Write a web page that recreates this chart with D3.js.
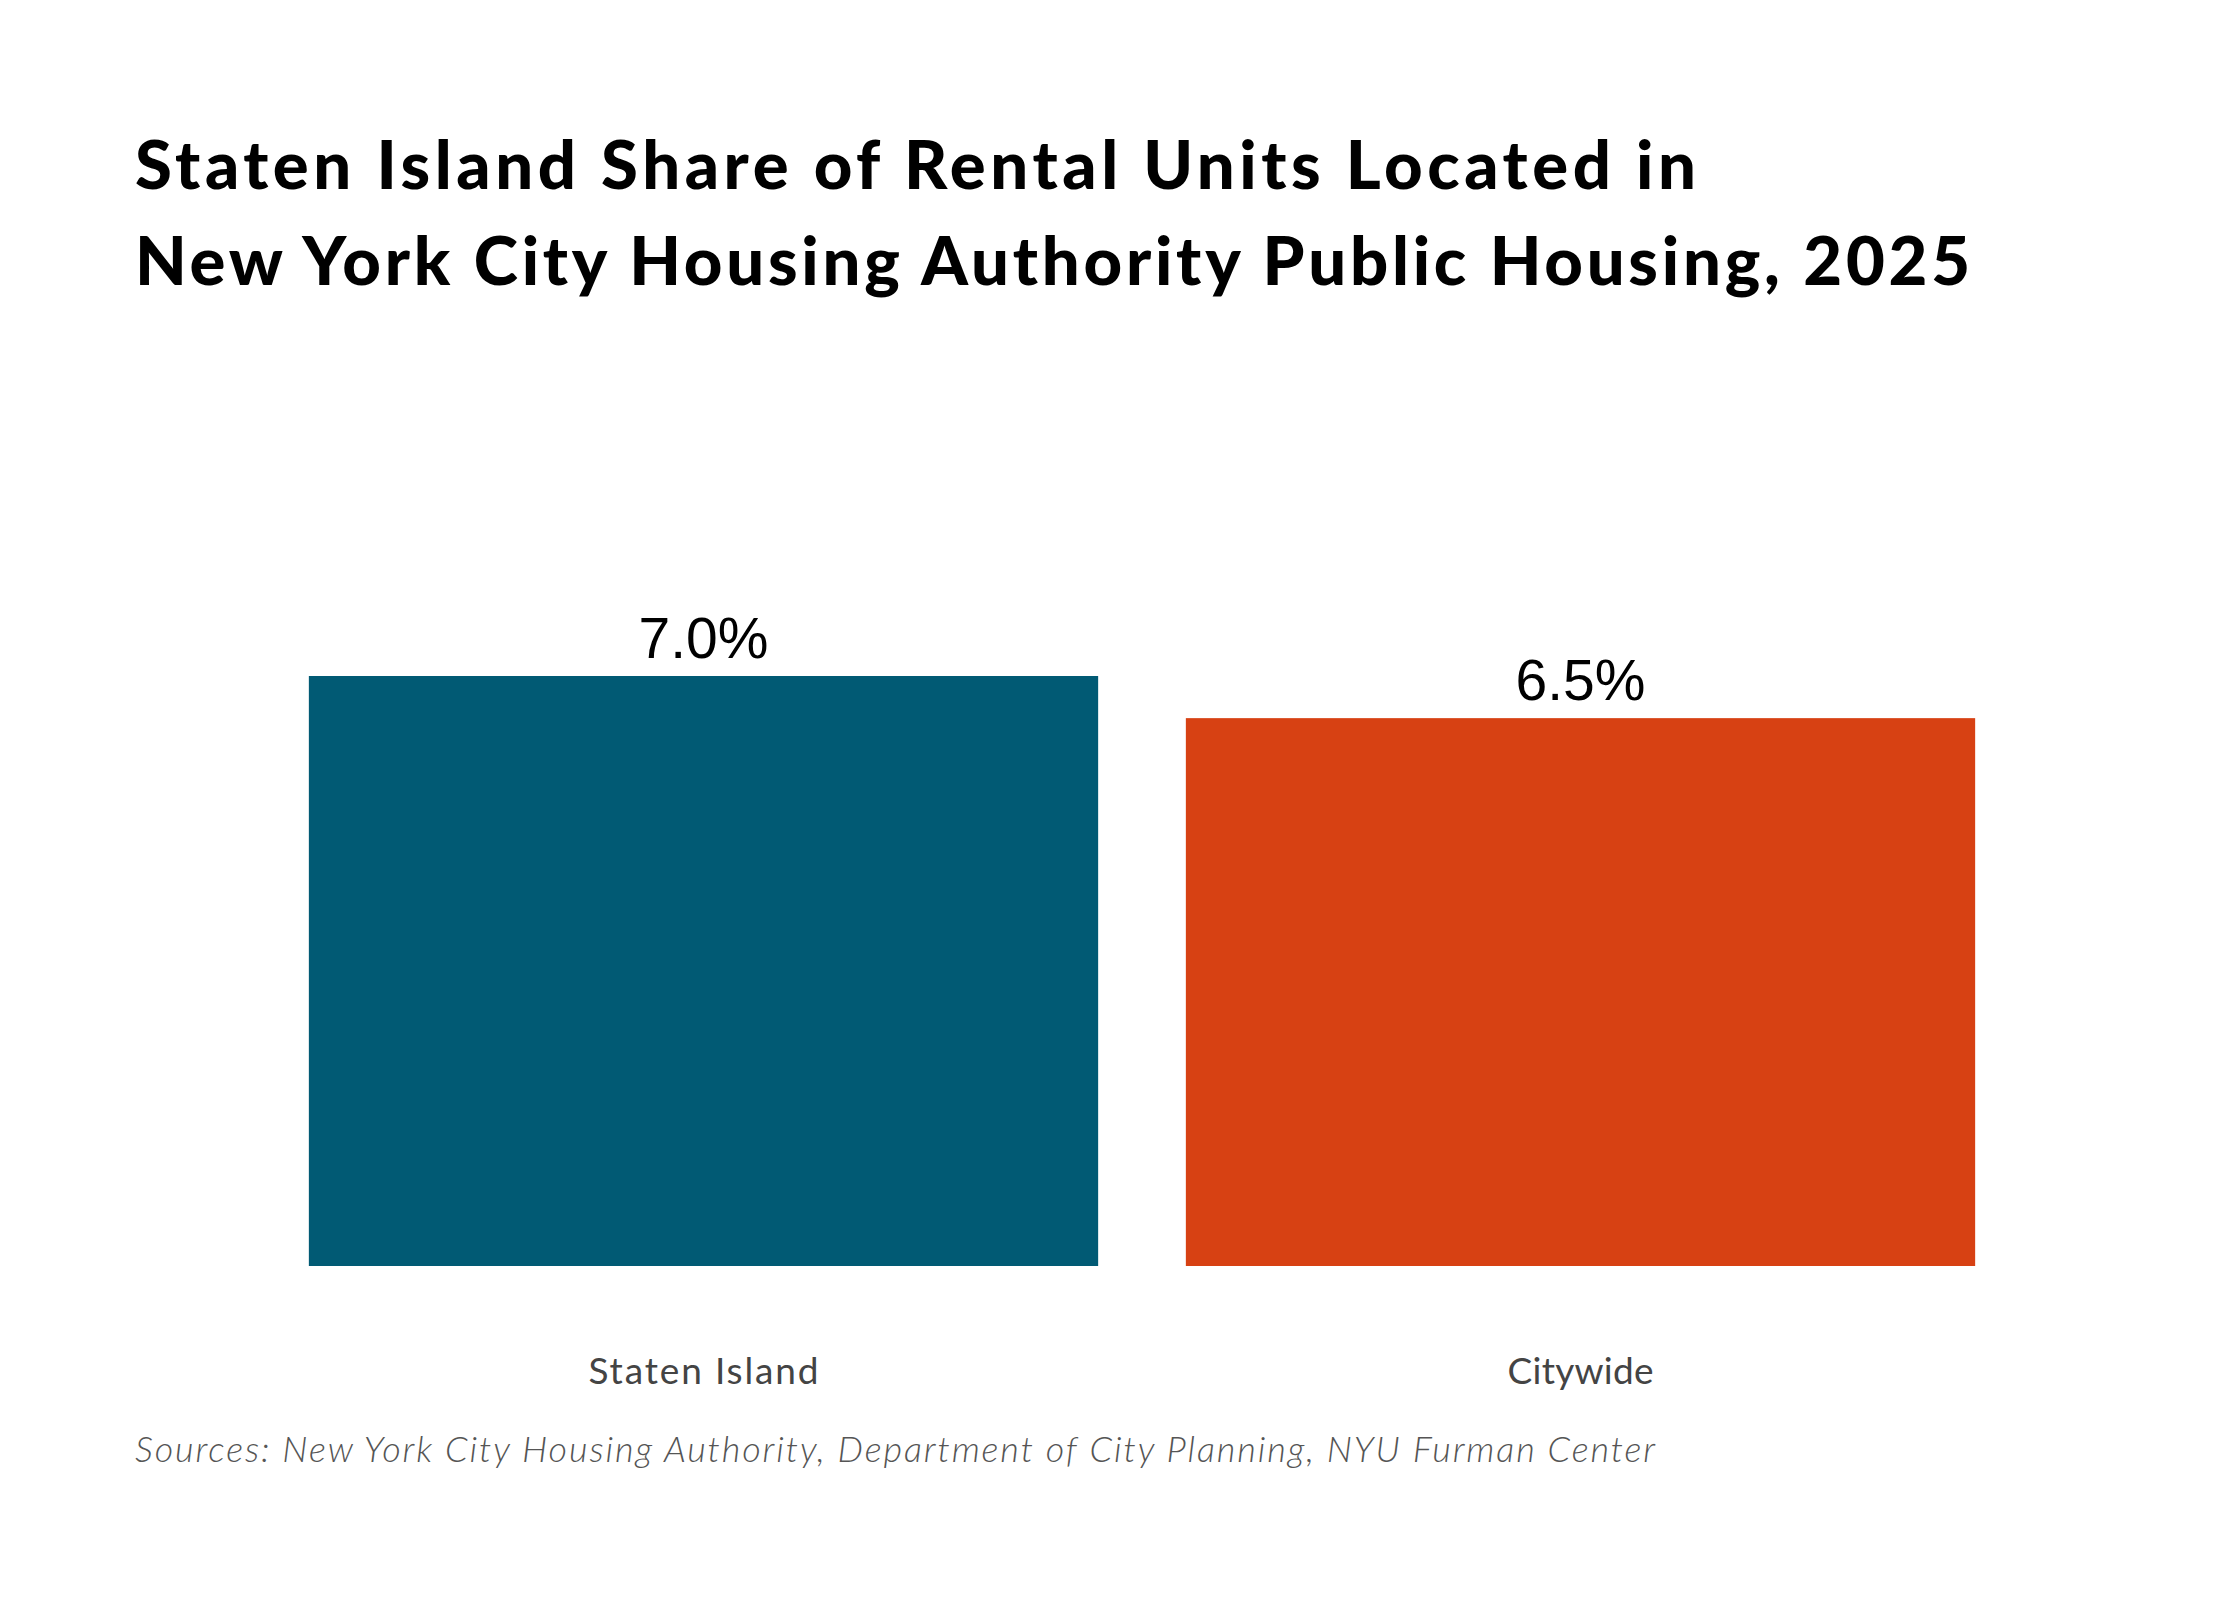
<!DOCTYPE html>
<html>
<head>
<meta charset="utf-8">
<script src="https://cdn.jsdelivr.net/npm/d3@7"></script>
<style>
  body { margin: 0; background: #fff; }
  text { font-family: Lato, "Open Sans", sans-serif; }
</style>
</head>
<body>
<div id="chart"></div>
<script>
// DATA
const categories = ["Staten Island", "Citywide"];
const values = [7.0, 6.5];
const barColors = ["#015a74", "#d74113"];
const titleLines = [
	"Staten Island Share of Rental Units Located in",
	"New York City Housing Authority Public Housing, 2025"
];
const sourceText = "Sources: New York City Housing Authority, Department of City Planning, NYU Furman Center";

const outerWidth = 2240;
const outerHeight = 1600;

// measured text widths in the original, used to space glyphs
const titleWidths = [1561, 1835];
const labelWidths = { "Staten Island": 230, "Citywide": 146 };

const svg = d3.select("#chart").append("svg")
	.attr("width", outerWidth)
	.attr("height", outerHeight);

svg.append("rect")
	.attr("width", outerWidth)
	.attr("height", outerHeight)
	.attr("fill", "#fff");

// title
svg.append("g")
	.selectAll("text")
	.data(titleLines)
	.enter()
	.append("text")
	.attr("x", 135)
	.attr("y", (d, i) => 189 + i * 96)
	.attr("textLength", (d, i) => titleWidths[i])
	.attr("lengthAdjust", "spacing")
	.style("font-size", "67px")
	.style("font-weight", 900)
	.style("fill", "#000")
	.text(d => d);

// scales
const x = d3.scaleBand()
	.domain(categories)
	.range([265, 2019])
	.paddingInner(0.1)
	.paddingOuter(0.05);

const y = d3.scaleLinear()
	.domain([0, 7.0])
	.range([1266, 676]);

const data = categories.map((c, i) => ({ cat: c, value: values[i], color: barColors[i] }));

const g = svg.append("g");

g.selectAll("rect.bar")
	.data(data)
	.enter()
	.append("rect")
	.attr("class", "bar")
	.attr("x", d => x(d.cat))
	.attr("y", d => y(d.value))
	.attr("width", x.bandwidth())
	.attr("height", d => y(0) - y(d.value))
	.style("fill", d => d.color);

// value labels
g.selectAll("text.value")
	.data(data)
	.enter()
	.append("text")
	.attr("class", "value")
	.attr("x", d => x(d.cat) + x.bandwidth() / 2)
	.attr("y", d => y(d.value) - 18)
	.attr("text-anchor", "middle")
	.style("font-family", "'Liberation Sans', Arial, sans-serif")
	.style("font-size", "57px")
	.style("fill", "#000")
	.text(d => d.value.toFixed(1) + "%");

// category axis (no line, no ticks)
const xAxis = svg.append("g")
	.attr("transform", `translate(0, ${y(0)})`)
	.call(d3.axisBottom(x).tickSize(0).tickPadding(118));

xAxis.select(".domain").remove();
xAxis.selectAll("text")
	.attr("textLength", d => labelWidths[d])
	.attr("lengthAdjust", "spacing")
	.style("font-family", "Lato, sans-serif")
	.style("font-size", "37px")
	.style("fill", "#444")
	.attr("dy", 0);

// source
svg.append("text")
	.attr("x", 135)
	.attr("y", 1462)
	.attr("textLength", 1520)
	.attr("lengthAdjust", "spacing")
	.style("font-size", "36px")
	.style("font-style", "italic")
	.style("font-weight", 300)
	.style("fill", "#555")
	.text(sourceText);
</script>
</body>
</html>
